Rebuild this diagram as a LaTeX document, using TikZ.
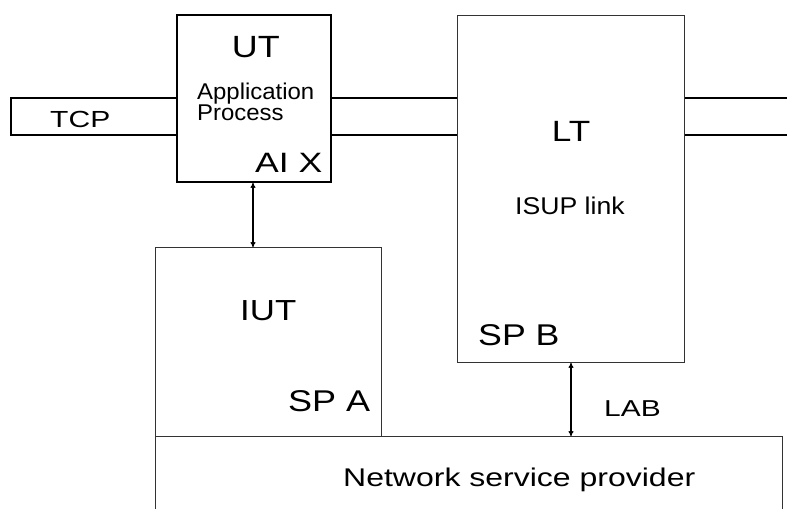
\documentclass[tikz,border=0pt]{standalone}
\usepackage{fontspec}
\setmainfont{Liberation Sans}
\usepackage{graphicx}
\usetikzlibrary{arrows.meta}
\newcommand\fsz[1]{\fontsize{#1}{#1}\selectfont}
\newcommand\sx[2]{\scalebox{#1}[1]{#2}}
\begin{document}
\begin{tikzpicture}[x=1pt,y=-1pt,
  boxthin/.style={draw=black!80,line width=1pt,inner sep=0pt,anchor=north west},
  boxthick/.style={draw=black,line width=2pt,inner sep=0pt,anchor=north west},
  lbl/.style={inner sep=0pt,anchor=base west},
  band/.style={draw=black,line width=1.2pt},
  dbl/.style={line width=1.3pt,{To[length=5pt,width=5pt]}-{To[length=5pt,width=5pt]}}]
\useasboundingbox (0,0) rectangle (787,509);
% boxes
\node[boxthick,minimum width=154pt,minimum height=167pt] (ut) at (176,14) {};
\node[boxthin,minimum width=227pt,minimum height=347pt] (lt) at (457,15) {};
\node[boxthin,minimum width=226pt,minimum height=189pt] (iut) at (155,247) {};
% network service provider box (open at bottom)
\coordinate (nA) at (155,509);
\coordinate (nB) at (155,436);
\coordinate (nC) at (782,436);
\coordinate (nD) at (782,509);
\draw[draw=black!80,line width=1pt] (nA) -- (nB) -- (nC) -- (nD);
% TCP band
\coordinate (t1) at (11,98);
\coordinate (t2) at (11,135);
\coordinate (r1) at (787,98);
\coordinate (r2) at (787,135);
\draw[band] (ut.west |- t1) -- (t1) -- (t2) -- (ut.west |- t2);
\draw[band] (ut.east |- t1) -- (lt.west |- t1);
\draw[band] (ut.east |- t2) -- (lt.west |- t2);
\draw[band] (lt.east |- t1) -- (r1);
\draw[band] (lt.east |- t2) -- (r2);
% arrows
\coordinate (a1) at (253,0);
\coordinate (a2) at (571,0);
\draw[dbl] (ut.south -| a1) -- (iut.north -| a1);
\draw[dbl] (lt.south -| a2) -- (nB -| a2);
% labels
\node[lbl,font=\fsz{30.7}] (tut) at (231.7,57.7) {\sx{1.17}{UT}};
\node[lbl,font=\fsz{22.8}] (tapp) at (197,99.3) {\sx{1.05}{Application}};
\node[lbl,font=\fsz{22.8}] (tproc) at (197,120) {\sx{1.05}{Process}};
\node[lbl,font=\fsz{28}] (tai) at (255,172) {\sx{1.27}{AI X}};
\node[lbl,font=\fsz{23.3}] (ttcp) at (50,127.7) {\sx{1.29}{TCP}};
\node[lbl,font=\fsz{29.3}] (tlt) at (551.7,141) {\sx{1.2}{LT}};
\node[lbl,font=\fsz{24.2}] (tisup) at (515,214) {\sx{1.1}{ISUP link}};
\node[lbl,font=\fsz{29}] (tiut) at (240,320) {\sx{1.2}{IUT}};
\node[lbl,font=\fsz{30}] (tspb) at (478,345) {\sx{1.19}{SP B}};
\node[lbl,font=\fsz{30}] (tspa) at (288,411.7) {\sx{1.2}{SP A}};
\node[lbl,font=\fsz{23}] (tlab) at (604,416) {\sx{1.3}{LAB}};
\node[lbl,font=\fsz{25.6}] (tnsp) at (343,486.7) {\sx{1.25}{Network service provider}};
\end{tikzpicture}
\end{document}
